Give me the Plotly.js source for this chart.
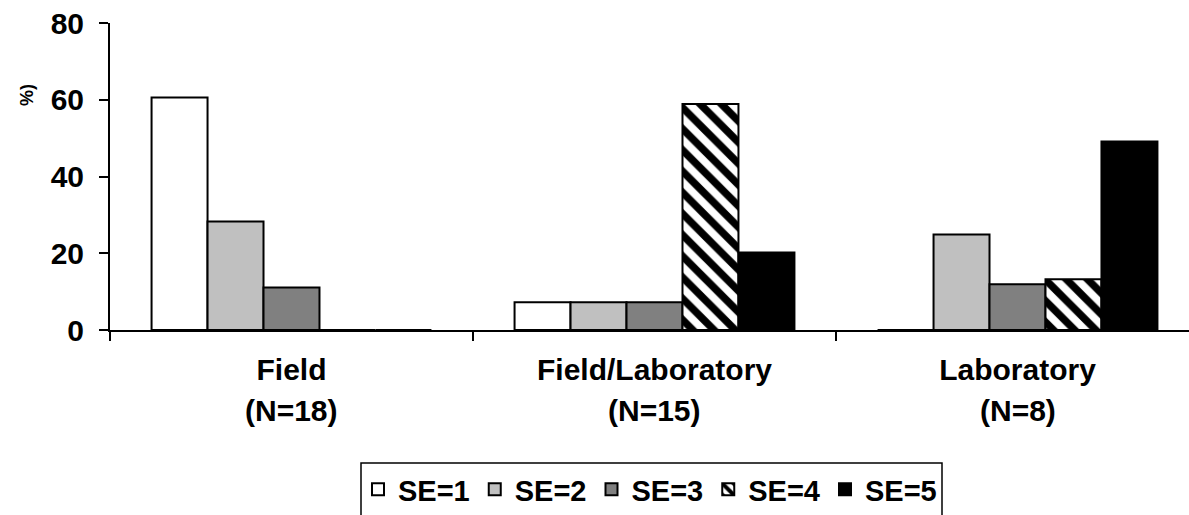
<!DOCTYPE html>
<html>
<head>
<meta charset="utf-8">
<script src="https://cdn.plot.ly/plotly-3.0.1.min.js"></script>
<style>html,body{margin:0;padding:0;background:#fff;}#chart{width:1189px;height:515px;}</style>
</head>
<body>
<div id="chart"></div>
<script>
// ---- data ----
const categories = ["Field", "Field/Laboratory", "Laboratory"];
const sampleSizes = ["(N=18)", "(N=15)", "(N=8)"];
const seriesNames = ["SE=1", "SE=2", "SE=3", "SE=4", "SE=5"];
const se1 = [60.6, 7.2, 0];
const se2 = [28.3, 7.2, 24.9];
const se3 = [11.1, 7.2, 11.9];
const se4 = [0, 58.9, 13.2];
const se5 = [0, 20.2, 49.1];
const yTicks = [0, 20, 40, 60, 80];
const yTitle = "%)";

// ---- styles ----
const FAM = "Liberation Sans, Arial, sans-serif";
const FONT = {family: FAM, size: 30, color: "#000", weight: "bold"};
const LFONT = {family: FAM, size: 29, color: "#000", weight: "bold"};
const seriesValues = [se1, se2, se3, se4, se5];
const fills = ["#ffffff", "#c0c0c0", "#808080", "#ffffff", "#000000"];

const traces = seriesValues.map((vals, i) => {
  const marker = {color: fills[i], line: {color: "#000", width: 2}};
  if (i === 3) {
    marker.pattern = {shape: "\\", fgcolor: "#000", fgopacity: 1, bgcolor: "#fff", size: 15, solidity: 0.5, fillmode: "replace"};
  }
  return {type: "bar", name: seriesNames[i], x: categories, y: vals, marker: marker, hoverinfo: "skip"};
});

const W = 1189, H = 515;
const mL = 110, mR = 0, mT = 23, mB = 185;
const pw = W - mL - mR, ph = H - mT - mB;
const px = v => (v - mL) / pw;          // pixel x -> paper
const py = v => (H - mB - v) / ph;      // pixel y -> paper
const catPx = 363;                       // pixels per category
const xEnd = -0.5 + pw / catPx;

const annotations = categories.map((c, i) => ({
  x: c, xref: "x", y: py(410), yref: "paper", text: sampleSizes[i],
  showarrow: false, xanchor: "center", yanchor: "middle", font: FONT
}));
annotations.push({
  x: px(27), y: py(95), xref: "paper", yref: "paper", text: yTitle, textangle: -90,
  showarrow: false, xanchor: "center", yanchor: "middle",
  font: {family: FAM, size: 18, color: "#000", weight: "bold"}
});

const layout = {
  width: W, height: H,
  margin: {l: mL, r: mR, t: mT, b: mB, pad: 0},
  paper_bgcolor: "#fff", plot_bgcolor: "#fff",
  barmode: "group", bargap: 0.229, bargroupgap: 0,
  font: FONT,
  showlegend: true,
  legend: {
    orientation: "h", x: px(358), y: py(464), xanchor: "left", yanchor: "top",
    bgcolor: "rgba(0,0,0,0)", borderwidth: 0, font: LFONT, traceorder: "normal",
    itemclick: false
  },
  xaxis: {
    type: "category", categoryorder: "array", categoryarray: categories,
    range: [-0.5, xEnd], tickson: "boundaries",
    ticks: "outside", ticklen: 9, tickwidth: 2, tickcolor: "#000",
    showline: true, linewidth: 2, linecolor: "#000", showgrid: false, zeroline: false,
    tickfont: FONT, ticklabelstandoff: 12, fixedrange: true
  },
  yaxis: {
    range: [0, 80], tickvals: yTicks, ticktext: yTicks.map(String),
    ticks: "outside", ticklen: 9, tickwidth: 2, tickcolor: "#000",
    showline: true, linewidth: 2, linecolor: "#000", showgrid: false, zeroline: false,
    tickfont: FONT, ticklabelstandoff: 9, fixedrange: true
  },
  shapes: [{
    type: "rect", xref: "paper", yref: "paper",
    x0: px(361), x1: px(942), y0: py(463), y1: py(560),
    line: {color: "#000", width: 1.5}, fillcolor: "rgba(0,0,0,0)"
  }],
  annotations: annotations
};

Plotly.newPlot("chart", traces, layout, {displayModeBar: false, staticPlot: true});
</script>
</body>
</html>
